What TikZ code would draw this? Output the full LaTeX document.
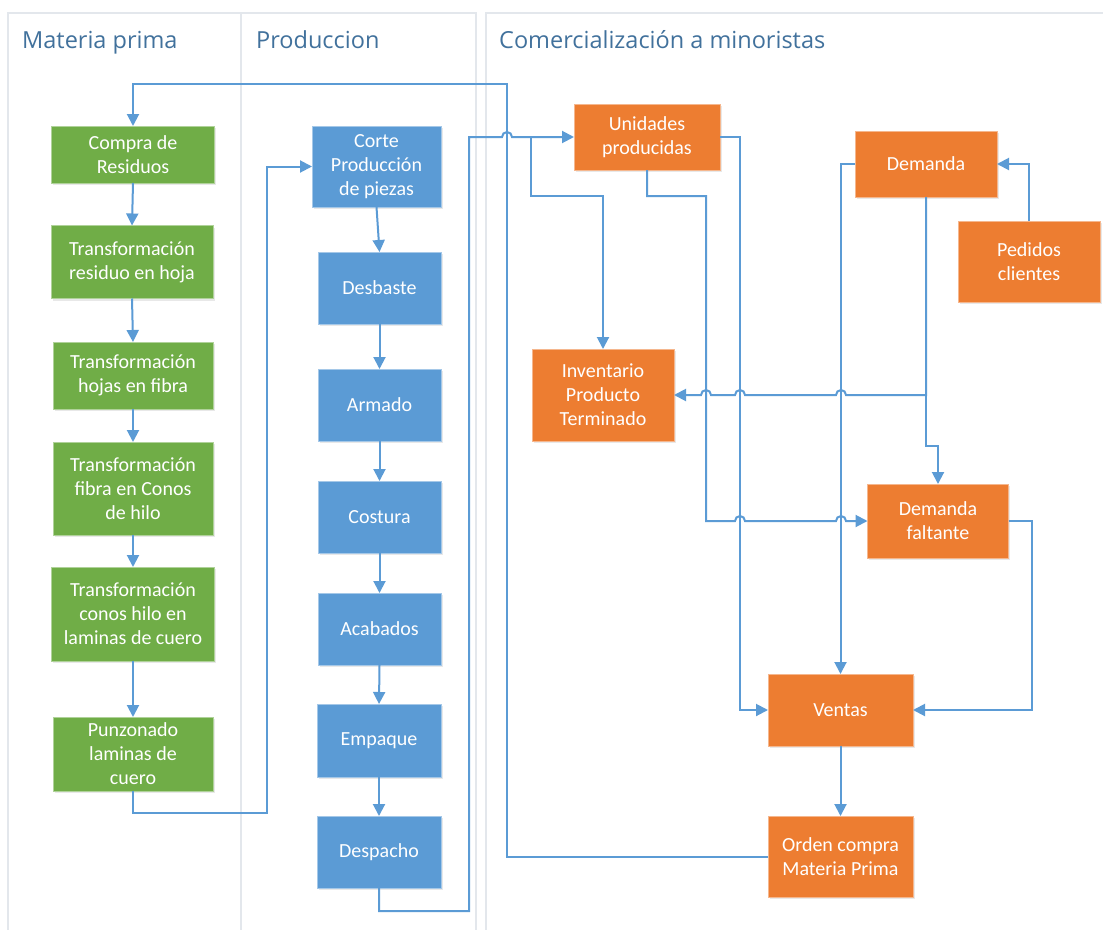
\documentclass[tikz,border=0pt]{standalone}
\usepackage{fontspec}
\setmainfont{Carlito}
\newfontfamily\hdrfont{Open Sans}
\usetikzlibrary{arrows.meta,shadows}
\definecolor{gfill}{HTML}{70AD47}
\definecolor{bfill}{HTML}{5B9BD5}
\definecolor{ofill}{HTML}{ED7D31}
\definecolor{wirecol}{HTML}{5B9BD5}
\definecolor{hdr}{HTML}{41719C}
\definecolor{lanecol}{HTML}{E3E7EC}
\begin{document}
\begin{tikzpicture}[x=1pt,y=-1pt,
  box/.style={rectangle, inner sep=0pt, outer sep=0pt, align=center, text=white,
    font=\fontsize{20}{24}\selectfont, line width=0.8pt,
    drop shadow={opacity=0.18, shadow xshift=1.5pt, shadow yshift=-2pt}},
  gbox/.style={box, fill=gfill, draw=gfill!55!white},
  bbox/.style={box, fill=bfill, draw=bfill!55!white},
  obox/.style={box, fill=ofill, draw=ofill!55!white},
  wire/.style={draw=wirecol, line width=2pt, -{Triangle[length=12pt,width=12pt]}},
  lanebox/.style={draw=lanecol, line width=1.5pt},
  hdrtext/.style={anchor=base west, inner sep=0pt, text=hdr, font=\hdrfont\fontsize{23.5}{28}\selectfont}
]
\useasboundingbox (0,0) rectangle (1103,929);
\clip (0,0) rectangle (1103,929);
\fill[white] (0,0) rectangle (1103,929);

% lanes
\draw[lanebox] (8,13) rectangle (241,960);
\draw[lanebox] (241,13) rectangle (476,960);
\draw[lanebox] (486,13) rectangle (1130,960);
\node[hdrtext] (h1) at (22,48) {Materia prima};
\node[hdrtext] (h2) at (256,48) {Produccion};
\node[hdrtext] (h3) at (499,48) {Comercialización a minoristas};

% green column
\node[gbox, minimum width=163pt, minimum height=57pt] (g1) at (133,154.5) {Compra de\\Residuos};
\node[gbox, minimum width=162pt, minimum height=73pt] (g2) at (132,262) {Transformación\\residuo en hoja};
\node[gbox, minimum width=160pt, minimum height=67pt] (g3) at (133,375.5) {Transformación\\hojas en fibra};
\node[gbox, minimum width=160pt, minimum height=93pt] (g4) at (133,488.5) {Transformación\\fibra en Conos\\de hilo};
\node[gbox, minimum width=163pt, minimum height=94pt] (g5) at (133,614) {Transformación\\conos hilo en\\laminas de cuero};
\node[gbox, minimum width=160pt, minimum height=74pt] (g6) at (133,754) {Punzonado\\laminas de\\cuero};

% blue column
\node[bbox, minimum width=129pt, minimum height=81pt] (b1) at (376.5,166.5) {Corte\\Producción\\de piezas};
\node[bbox, minimum width=123pt, minimum height=72pt] (b2) at (379.5,288) {Desbaste};
\node[bbox, minimum width=123pt, minimum height=72pt] (b3) at (379.5,405) {Armado};
\node[bbox, minimum width=123pt, minimum height=72pt] (b4) at (379.5,517) {Costura};
\node[bbox, minimum width=123pt, minimum height=72pt] (b5) at (379.5,629) {Acabados};
\node[bbox, minimum width=124pt, minimum height=73pt] (b6) at (379,740.5) {Empaque};
\node[bbox, minimum width=124pt, minimum height=72pt] (b7) at (379,852) {Despacho};

% orange
\node[obox, minimum width=146pt, minimum height=66pt] (o1) at (647,137) {Unidades\\producidas};
\node[obox, minimum width=142pt, minimum height=66pt] (o2) at (926,164) {Demanda};
\node[obox, minimum width=142pt, minimum height=81pt] (o3) at (1029,261.5) {Pedidos\\clientes};
\node[obox, minimum width=142pt, minimum height=92pt] (o4) at (603,395) {Inventario\\Producto\\Terminado};
\node[obox, minimum width=141pt, minimum height=74pt] (o5) at (938,521) {Demanda\\faltante};
\node[obox, minimum width=145pt, minimum height=72pt] (o6) at (840.5,710) {Ventas};
\node[obox, minimum width=145pt, minimum height=81pt] (o7) at (840.5,856.5) {Orden compra\\Materia Prima};

% green chain
\draw[wire] (g1.south) -- (g2.north);
\draw[wire] (g2.south) -- (g3.north);
\draw[wire] (g3.south) -- (g4.north);
\draw[wire] (g4.south) -- (g5.north);
\draw[wire] (g5.south) -- (g6.north);
% blue chain
\draw[wire] (b1.south) -- (b2.north);
\draw[wire] (b2.south) -- (b3.north);
\draw[wire] (b3.south) -- (b4.north);
\draw[wire] (b4.south) -- (b5.north);
\draw[wire] (b5.south) -- (b6.north);
\draw[wire] (b6.south) -- (b7.north);

% Punzonado -> Corte
\draw[wire] (g6.south) -- (133,813) -- (267,813) |- (b1.west);
% Orden compra -> Compra de residuos
\draw[wire] (o7.west) -- (507,856.5) -- (507,84) -| (g1.north);
% Despacho -> Unidades producidas (jump over x=507)
\draw[wire] (b7.south) -- (379,911) -- (469,911) -- (469,137) -- (502,137)
  arc[start angle=180,end angle=0,radius=5pt] -- (o1.west);
\coordinate (br) at (531,137);
\draw[wire] (br) -- (531,196) -- (603,196) -- (o4.north);
% Unidades -> Ventas
\draw[wire] (o1.east) -- (740,137) |- (o6.west);
% Unidades -> Demanda faltante
\draw[wire] (o1.south) -- (647,196) -- (706,196) -- (706,521) -- (735,521)
  arc[start angle=180,end angle=0,radius=5pt] -- (836,521)
  arc[start angle=180,end angle=0,radius=5pt] -- (o5.west);
% Demanda -> Ventas
\draw[wire] (o2.west) -| (o6.north);
% Demanda -> Inventario
\draw[wire] (o2.south) -- (926,395) -- (846,395)
  arc[start angle=0,end angle=180,radius=5pt] -- (745,395)
  arc[start angle=0,end angle=180,radius=5pt] -- (711,395)
  arc[start angle=0,end angle=180,radius=5pt] -- (o4.east);
% Demanda -> Demanda faltante
\coordinate (dj) at (926,395);
\draw[wire] (dj) -- (926,446) -- (938,446) -- (o5.north);
% Pedidos -> Demanda
\draw[wire] (o3.north) |- (o2.east);
% Demanda faltante -> Ventas
\draw[wire] (o5.east) -- (1032,521) |- (o6.east);
% Ventas -> Orden compra
\draw[wire] (o6.south) -- (o7.north);
\end{tikzpicture}
\end{document}
